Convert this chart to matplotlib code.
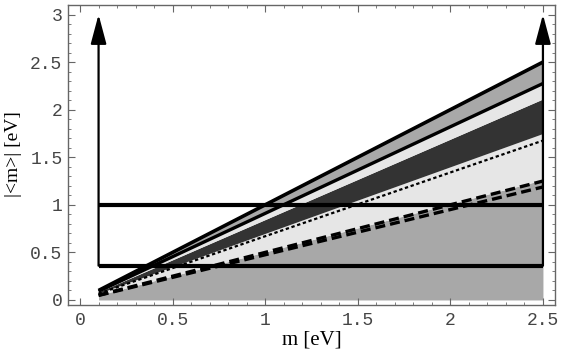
import numpy as np
import matplotlib
matplotlib.use("Agg")
import matplotlib.pyplot as plt
from matplotlib.ticker import MultipleLocator

# neutrino mass range and slopes of the band boundaries (|<m>| = k * m)
m = np.array([0.1, 2.5])
k_top = 1.0
k_second = 0.91
k_dark_top = 0.845
k_dark_bottom = 0.70
k_dotted = 0.67
k_gray_top = 0.505
k_dash_upper = 0.50
k_dash_lower = 0.475

# horizontal bounds and arrows
h_levels = [1.0, 0.36]
arrow_x = [0.1, 2.5]
arrow_bottom = 0.36
arrow_top = 3.0

xticks = [0, 0.5, 1, 1.5, 2, 2.5]
yticks = [0, 0.5, 1, 1.5, 2, 2.5, 3]

fig = plt.figure(figsize=(5.64, 3.54), dpi=100)
ax = fig.add_axes([0.1206, 0.1384, 0.8634, 0.8475])

mid_gray = "#a8a8a8"
light_gray = "#e6e6e6"
dark_gray = "#333333"

# filled bands
ax.fill_between(m, 0, k_gray_top * m, color=mid_gray, lw=0)
ax.fill_between(m, k_gray_top * m, k_dark_bottom * m, color=light_gray, lw=0)
ax.fill_between(m, k_dark_bottom * m, k_dark_top * m, color=dark_gray, lw=0)
ax.fill_between(m, k_dark_top * m, k_second * m, color=light_gray, lw=0)
ax.fill_between(m, k_second * m, k_top * m, color=mid_gray, lw=0)

# boundary lines
ax.plot(m, k_top * m, color="black", lw=2.6, solid_capstyle="butt")
ax.plot(m, k_second * m, color="black", lw=2.4, solid_capstyle="butt")
ax.plot(m, k_dotted * m, color="black", lw=1.6, dashes=(1.5, 1.2))
ax.plot(m, k_dash_upper * m, color="black", lw=2.4, dashes=(3, 1.5))
ax.plot(m, k_dash_lower * m, color="black", lw=2.4, dashes=(3, 1.5))

# horizontal lines
for h in h_levels:
    ax.plot(m, [h, h], color="black", lw=3, solid_capstyle="butt")

# vertical arrows
for xa in arrow_x:
    ax.annotate("", xy=(xa, arrow_top), xytext=(xa, arrow_bottom),
                arrowprops=dict(arrowstyle="-|>,head_length=1.8,head_width=0.48",
                                color="black", lw=1.6, shrinkA=0, shrinkB=0,
                                mutation_scale=10))

ax.set_xlim(-0.065, 2.565)
ax.set_ylim(-0.053, 3.1)

ax.set_xticks(xticks)
ax.set_yticks(yticks)
ax.set_xticklabels(["0", "0.5", "1", "1.5", "2", "2.5"])
ax.set_yticklabels(["0", "0.5", "1", "1.5", "2", "2.5", "3"])
ax.xaxis.set_minor_locator(MultipleLocator(0.1))
ax.yaxis.set_minor_locator(MultipleLocator(0.1))
ax.tick_params(which="both", direction="in", top=True, right=True, color="#666666")
ax.tick_params(which="major", length=5, width=0.8)
ax.tick_params(axis="y", which="major", pad=4)
ax.tick_params(axis="x", which="major", pad=5)
ax.tick_params(which="minor", length=2.5, width=0.6)
for lab in ax.get_xticklabels() + ax.get_yticklabels():
    lab.set_family("Liberation Mono")
    lab.set_fontsize(13)
    lab.set_color("#444444")

for s in ax.spines.values():
    s.set_color("#666666")
    s.set_linewidth(1)

ax.set_xlabel("m [eV]", family="Liberation Serif", fontsize=15)
ax.set_ylabel("|<m>| [eV]", family="Liberation Serif", fontsize=14)
ax.xaxis.set_label_coords(0.501, -0.085)
ax.yaxis.set_label_coords(-0.094, 0.503)

fig.savefig("out.png", dpi=100)
